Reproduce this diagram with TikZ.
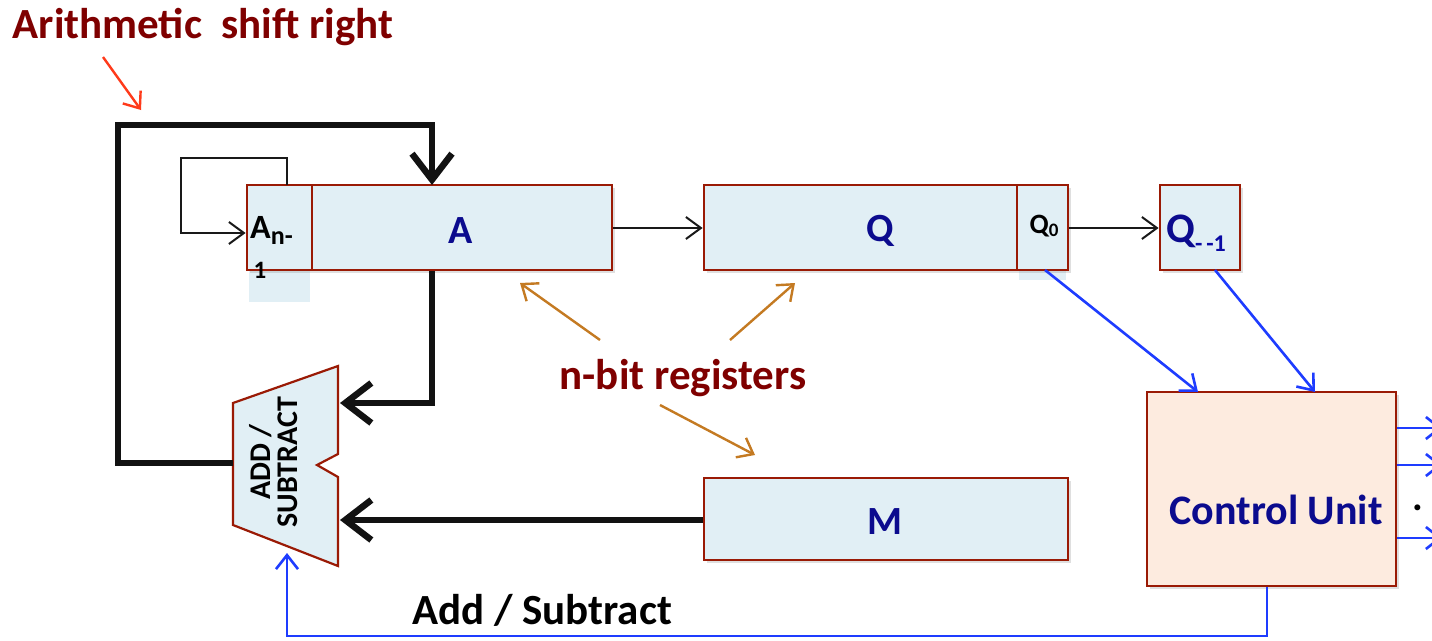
\documentclass[tikz,border=0pt]{standalone}
\usepackage{fontspec}
\setmainfont{Carlito}
\usetikzlibrary{arrows.meta,shadows}
\definecolor{dred}{HTML}{7F0000}
\definecolor{bord}{HTML}{9A1A05}
\definecolor{regfill}{HTML}{E1EFF5}
\definecolor{cufill}{HTML}{FDEBDF}
\definecolor{navy}{HTML}{0B0B8E}
\definecolor{wire}{HTML}{1E3CFF}
\definecolor{brownarr}{HTML}{C47A22}
\definecolor{redarr}{HTML}{FF3A1A}
\newcommand{\myfs}[1]{\fontsize{#1}{#1}\selectfont}
\tikzset{
  reg/.style={draw=bord, line width=2.8pt, fill=regfill, inner sep=0pt,
    drop shadow={shadow xshift=3pt, shadow yshift=-3pt, opacity=.25}},
  thickwire/.style={line width=6.5pt, black!93, line join=miter},
  thickarr/.style={thickwire, -{Straight Barb[length=26pt,width=40pt,line width=6.5pt]}},
  thinarr/.style={line width=2pt, black!90, -{Straight Barb[length=15pt,width=22pt,line width=2pt]}},
  bluearr/.style={line width=2.6pt, wire, -{Straight Barb[length=14pt,width=22pt,line width=2.6pt]}},
  brownline/.style={line width=2.4pt, brownarr, -{Straight Barb[length=14pt,width=22pt,line width=2.4pt]}},
  lbl/.style={font=\bfseries\myfs{40}, inner sep=0pt},
}
\begin{document}
\begin{tikzpicture}[x=1pt,y=-1pt]
\clip (0,0) rectangle (1432,640);
\fill[white] (0,0) rectangle (1432,640);

% title
\node[lbl, font=\bfseries\myfs{43}, text=dred] (title) at (203,27) {Arithmetic\ \ shift right};
\coordinate (rs) at (103,57);
\coordinate (re) at (141,110);
\draw[line width=2.4pt, redarr, -{Straight Barb[length=14pt,width=22pt,line width=2.4pt]}] (rs) -- (re);

% lower extensions of small cells
\fill[regfill] (249,270) rectangle (310,302);
\fill[regfill] (1019,270) rectangle (1066,280);

% registers
\node[reg, minimum width=65, minimum height=85] (an) at (279.5,227.5) {};
\node[reg, minimum width=300, minimum height=85] (a) at (462,227.5) {};
\node[reg, minimum width=313, minimum height=85] (q) at (860.5,227.5) {};
\node[reg, minimum width=51, minimum height=85] (q0) at (1042.5,227.5) {};
\node[reg, minimum width=80, minimum height=85] (qm) at (1200,227.5) {};
\node[reg, minimum width=364, minimum height=82] (m) at (886,519) {};
\node[reg, fill=cufill, minimum width=249, minimum height=194] (cu) at (1271.5,489) {};

% register texts
\node[lbl, text=navy] (at) at (461,231) {A};
\node[lbl, text=navy] (qt) at (880,231) {Q};
\node[lbl, text=navy] (mt) at (885,522) {M};
\node[font=\bfseries\myfs{34}, inner sep=0pt, anchor=west] (ant) at (250,230) {A\raisebox{-6pt}{\myfs{26}n-}};
\node[font=\bfseries\myfs{25}, inner sep=0pt] (an1) at (260,270) {1};
\node[font=\bfseries\myfs{28}, inner sep=0pt] (q0t) at (1044,226) {Q\raisebox{-3pt}{\myfs{19}0}};
\node[inner sep=0pt, anchor=west] (qmt) at (1166,233) {\bfseries\myfs{42}\textcolor{navy}{Q}\raisebox{-9pt}{\myfs{24}\textcolor{navy!80!blue}{-\,-1}}};
\node[font=\bfseries\myfs{42}, text=navy, inner sep=0pt] (cut) at (1276,510) {Control Unit};

% add/subtract unit
\coordinate (t1) at (233,403);
\coordinate (t2) at (338,366);
\coordinate (t3) at (338,454);
\coordinate (t4) at (317,465);
\coordinate (t5) at (338,477);
\coordinate (t6) at (338,566);
\coordinate (t7) at (233,525);
\draw[bord, line width=2.2pt, fill=regfill] (t1) -- (t2) -- (t3) -- (t4) -- (t5) -- (t6) -- (t7) -- cycle;
\node[font=\bfseries\myfs{30}, rotate=90, align=center, inner sep=0pt] (addsub) at (274,462) {ADD /\\[-3pt]SUBTRACT};

% thick feedback loop
\coordinate (addout) at (233,463);
\coordinate (ain) at (432,185);
\draw[thickarr] (addout) -- (118,463) -- (118,125) -- (432,125) -- (ain);

% thin sign loop
\coordinate (anout) at (287,185);
\draw[thinarr] (anout) -- (287,158) -- (181,158) -- (181,233) -- (an.west |- 0,233);

% A -> adder, M -> adder
\coordinate (in1) at (340,403);
\coordinate (in2) at (340,520);
\draw[thickarr] (a.south -| 432,0) -- (432,403) -- (in1);
\draw[thickarr] (m.west |- 0,520) -- (in2);

% shifts
\draw[thinarr] (a.east |- 0,228) -- (q.west |- 0,228);
\draw[thinarr] (q0.east |- 0,228) -- (qm.west |- 0,228);

% n-bit registers
\node[font=\bfseries\myfs{43}, text=dred, inner sep=0pt] (nb) at (683,378) {n-bit registers};
\draw[brownline] (600,340) -- (520,283);
\draw[brownline] (730,340) -- (795,283);
\draw[brownline] (660,405) -- (755,455);

% control wiring
\coordinate (cu1) at (1198,392);
\coordinate (cu2) at (1315,392);
\draw[bluearr] (1045,270) -- (cu1);
\draw[bluearr] (1215,270) -- (cu2);
\coordinate (asin) at (287,553);
\draw[bluearr] (cu.south -| 1267,0) -- (1267,636) -- (287,636) -- (asin);
\node[font=\bfseries\myfs{43}, inner sep=0pt] (ast) at (542,610) {Add / Subtract};

% outputs
\coordinate (o1) at (1442,428);
\coordinate (o2) at (1442,465);
\coordinate (o3) at (1442,538);
\draw[bluearr] (cu.east |- o1) -- (o1);
\draw[bluearr] (cu.east |- o2) -- (o2);
\draw[bluearr] (cu.east |- o3) -- (o3);
\node[font=\bfseries\myfs{40}, inner sep=0pt] (dot) at (1418,508) {.};
\end{tikzpicture}
\end{document}
